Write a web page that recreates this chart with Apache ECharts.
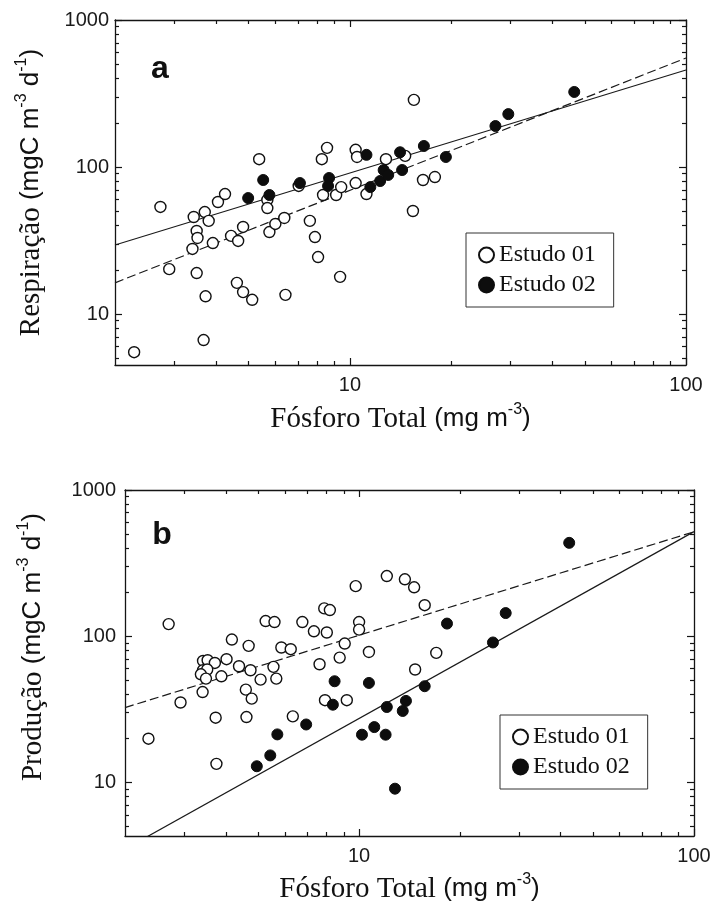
<!DOCTYPE html>
<html><head><meta charset="utf-8">
<script src="https://cdn.jsdelivr.net/npm/echarts@6/dist/echarts.min.js"></script>
<style>html,body{margin:0;padding:0;background:#fff}#c{width:713px;height:908px}</style>
</head><body><div id="c"></div>
<script>
// ---------- data ----------
const respEstudo01 = [
 [5.37,113],[8.25,113],[8.55,135],[10.4,131],[10.5,117],[12.8,113],[14.6,119],[15.5,286],
 [2.73,53.5],[3.43,45.7],[3.70,49.4],[3.80,43.0],[4.05,57.8],[4.25,65.5],
 [3.50,36.7],[3.52,32.9],[3.40,27.7],[3.91,30.4],[4.43,34.0],[4.65,31.4],[4.81,39.1],
 [5.68,59.7],[5.68,52.6],[5.76,36.1],[6.00,41.0],[6.38,45.0],[7.04,74.3],[7.60,43.0],
 [7.87,33.4],[8.04,24.4],[8.32,64.5],[9.10,64.5],[9.42,73.0],[10.4,77.8],[11.2,65.5],
 [16.5,81.6],[17.9,85.5],[15.4,50.2],[2.90,20.2],[3.50,19.0],[4.61,16.3],[4.81,14.1],
 [5.12,12.5],[3.72,13.2],[6.43,13.5],[9.35,17.9],[3.67,6.65],[2.28,5.5]
];
const respEstudo02 = [
 [4.98,61.5],[5.52,81.6],[5.76,64.5],[7.10,77.8],[8.67,84.2],[8.61,74.3],[11.2,121],
 [11.5,73.0],[12.3,80.3],[12.6,95.4],[13.0,88.3],[14.1,126],[14.3,95.4],[16.6,139],
 [19.3,117],[27.1,190],[29.6,229],[46.5,324]
];
const respFitDashed = [[2,16.3],[100,551]];
const respFitSolid = [[2,29.5],[100,457]];

const prodEstudo01 = [
 [2.70,121],[2.35,19.9],[2.93,35.2],[3.75,13.4],[3.73,27.7],[3.42,67.7],[3.53,68.5],
 [3.71,65.6],[4.02,69.6],[3.42,58.5],[3.52,59.2],[3.37,54.9],[3.49,51.3],[3.88,53.2],
 [3.41,41.5],[4.38,62.3],[4.68,85.9],[4.17,94.9],[4.59,43.1],[4.78,37.4],[4.74,58.5],
 [5.08,50.5],[4.61,28.0],[5.26,127],[5.59,125],[5.55,61.7],[5.66,51.3],[5.86,83.7],
 [6.25,81.5],[6.77,125],[7.33,108],[8.01,106],[7.87,155],[8.18,151],[9.77,220],
 [12.1,258],[13.7,245],[14.6,216],[15.7,163],[9.06,89.1],[8.75,71.4],[7.62,64.3],
 [10.0,125],[10.0,111],[10.7,78.0],[17.0,76.9],[14.7,59.2],[7.91,36.5],[9.19,36.5],[6.34,28.3]
];
const prodEstudo02 = [
 [42.4,435],[27.4,144],[25.1,90.6],[18.3,122],[15.7,45.5],[13.8,36.1],[13.5,30.8],
 [12.1,32.8],[12.0,21.2],[11.1,23.9],[10.2,21.2],[12.8,9.06],[10.7,47.9],[8.45,49.2],
 [8.35,34.0],[6.95,24.9],[5.70,21.3],[5.43,15.3],[4.95,12.9]
];
const prodFitDashed = [[2,32.5],[100,518]];
const prodFitSolid = [[2,3.5],[100,519]];

const legendNames = ['Estudo 01','Estudo 02'];
const xRange = [2, 100];
const yRangeA = [4.5, 1000];
const yRangeB = [4.3, 1000];
const xMajor = [10, 100];
const xMinor = [3,4,5,6,7,8,9,20,30,40,50,60,70,80,90];
const yMajor = [10, 100, 1000];
const yMinor = [5,6,7,8,9,20,30,40,50,60,70,80,90,200,300,400,500,600,700,800,900];

// ---------- styling ----------
const ink = '#141414';
const serif = "'Liberation Serif','Times New Roman',serif";
const sans = "'Liberation Sans',Arial,sans-serif";
const richName = {
  s: {fontFamily: serif, fontSize: 29, lineHeight: 34, color: '#111'},
  a: {fontFamily: sans, fontSize: 26, lineHeight: 34, color: '#111'},
  p: {fontFamily: sans, fontSize: 16, lineHeight: 19, verticalAlign: 'top', color: '#111'}
};

function axis(dim, grid, pos, range, ticks, len, line, labels, extra) {
  const o = {
    type: 'log', logBase: 10, gridIndex: grid, position: pos,
    min: range[0], max: range[1],
    axisLine: {show: line, onZero: false, lineStyle: {color: ink, width: 1.3}},
    axisTick: {show: true, inside: true, length: len, customValues: ticks,
               lineStyle: {color: ink, width: 1.2}},
    axisLabel: labels ? {
      show: true, customValues: labels, color: '#1a1a1a',
      fontFamily: sans, fontSize: 20, margin: dim === 'x' ? 10 : 7,
      formatter: v => String(Math.round(v))
    } : {show: false},
    splitLine: {show: false}, minorTick: {show: false}, minorSplitLine: {show: false}
  };
  return Object.assign(o, extra || {});
}

const xAxes = [], yAxes = [];
function buildGrid(g, yRange, xName, yName, xGap, yGap, yLabelMargin, yNamePad) {
  xAxes.push(axis('x', g, 'bottom', xRange, xMajor, 7, true, xMajor, {
    name: xName, nameLocation: 'middle', nameGap: xGap,
    nameTextStyle: {rich: richName}
  }));
  xAxes.push(axis('x', g, 'bottom', xRange, xMinor, 4, false, null));
  xAxes.push(axis('x', g, 'top', xRange, xMajor, 7, true, null));
  xAxes.push(axis('x', g, 'top', xRange, xMinor, 4, false, null));
  const yl = axis('y', g, 'left', yRange, yMajor, 7, true, yMajor, {
    name: yName, nameLocation: 'middle', nameRotate: 90, nameGap: yGap,
    nameTextStyle: {rich: richName, padding: yNamePad}
  });
  yl.axisLabel.margin = yLabelMargin;
  yAxes.push(yl);
  yAxes.push(axis('y', g, 'left', yRange, yMinor, 4, false, null));
  yAxes.push(axis('y', g, 'right', yRange, yMajor, 7, true, null));
  yAxes.push(axis('y', g, 'right', yRange, yMinor, 4, false, null));
}
buildGrid(0, yRangeA, '{s|Fósforo Total }{a|(mg m}{p|-3}{a|)}',
  '{s|Respiração }{a|(mgC m}{p|-3}{a| d}{p|-1}{a|)}', 37, 67, 6, [0, 0, 0, 0]);
buildGrid(1, yRangeB, '{s|Fósforo Total }{a|(mg m}{p|-3}{a|)}',
  '{s|Produção }{a|(mgC m}{p|-3}{a| d}{p|-1}{a|)}', 36, 75, 9, [0, 0, 0, 32]);

function openSeries(data, ai) {
  return {type: 'scatter', name: legendNames[0], xAxisIndex: ai, yAxisIndex: ai, data,
    symbol: 'circle', symbolSize: 11, z: 3,
    itemStyle: {color: '#fff', borderColor: '#111', borderWidth: 1.4, opacity: 1}};
}
function filledSeries(data, ai) {
  return {type: 'scatter', name: legendNames[1], xAxisIndex: ai, yAxisIndex: ai, data,
    symbol: 'circle', symbolSize: 11, z: 4,
    itemStyle: {color: '#0d0d0d', borderColor: '#0d0d0d', borderWidth: 1, opacity: 1}};
}
function fitSeries(data, ai, dashed) {
  return {type: 'line', xAxisIndex: ai, yAxisIndex: ai, data, symbol: 'none', silent: true,
    clip: true, z: 2, lineStyle: {color: '#1a1a1a', width: 1.2, type: dashed ? [9, 4] : 'solid'}};
}

function legendAt(left, top) {
  return {data: legendNames, orient: 'vertical', left, top,
    borderColor: '#333', borderWidth: 1, padding: [10, 18, 10, 12], itemGap: 6,
    icon: 'circle', itemWidth: 15, itemHeight: 15, selectedMode: false,
    textStyle: {fontFamily: serif, fontSize: 24, color: '#111'}};
}

const chart = echarts.init(document.getElementById('c'), null, {renderer: 'canvas'});
chart.setOption({
  backgroundColor: '#fff',
  animation: false,
  grid: [
    {left: 115, top: 20, width: 571, height: 345, outerBoundsMode: 'none'},
    {left: 125, top: 490, width: 569, height: 346, outerBoundsMode: 'none'}
  ],
  xAxis: xAxes,
  yAxis: yAxes,
  legend: [legendAt(466, 233), legendAt(500, 715)],
  graphic: [
    {type: 'text', x: 160, y: 69, style: {text: 'a', fontFamily: sans, fontWeight: 'bold',
      fontSize: 32, fill: '#111', align: 'center', verticalAlign: 'middle'}},
    {type: 'text', x: 162, y: 535, style: {text: 'b', fontFamily: sans, fontWeight: 'bold',
      fontSize: 32, fill: '#111', align: 'center', verticalAlign: 'middle'}}
  ],
  series: [
    fitSeries(respFitSolid, 0, false),
    fitSeries(respFitDashed, 0, true),
    openSeries(respEstudo01, 0),
    filledSeries(respEstudo02, 0),
    fitSeries(prodFitSolid, 4, false),
    fitSeries(prodFitDashed, 4, true),
    openSeries(prodEstudo01, 4),
    filledSeries(prodEstudo02, 4)
  ]
});
</script></body></html>
